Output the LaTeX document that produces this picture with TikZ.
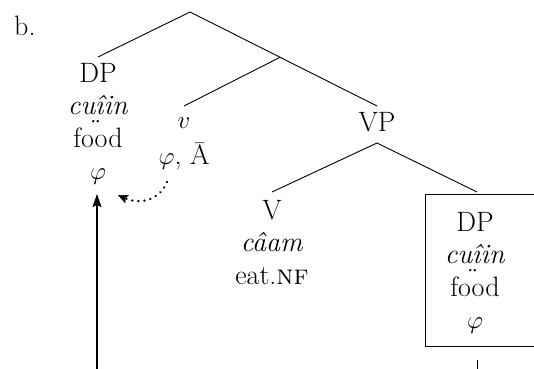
\documentclass[tikz,border=0pt]{standalone}
\usepackage{fontspec}
\usetikzlibrary{arrows.meta}
\newcommand\dblw[1]{\leavevmode\setbox0\hbox{#1}\rlap{\copy0}\hbox to\wd0{\hss\kern0.25em\raisebox{-0.84em}[0pt][0pt]{¨}\hss}}
\begin{document}
\begin{tikzpicture}[x=1pt,y=-1pt,
  lbl/.style={align=center, inner sep=0pt, font=\fontsize{28}{32.5}\selectfont},
  branch/.style={line width=0.9pt},
  movearrow/.style={line width=1.6pt, -{Stealth[length=13pt,width=9pt,inset=2pt]}},
  agreearrow/.style={line width=2.5pt, line cap=round, dash pattern=on 0.1pt off 6pt, -{Stealth[length=10pt,width=9pt,inset=2pt,line width=0.5pt]}}]
\useasboundingbox (0,0) rectangle (534,368);
\clip (0,0) rectangle (534,368);
\node[lbl, anchor=base west] (b) at (14,35) {b.};
\coordinate (top) at (190,12);
\coordinate (vbar) at (280,57.3);
\node[lbl, anchor=north] (dpl) at (98,63) {DP\\\textit{c\dblw{u}îin}\\food\\$\varphi$};
\node[lbl, anchor=north] (v) at (184,118) {$v$\\[3pt]$\varphi$, Ā};
\node[lbl, anchor=north] (vp) at (377,112) {VP};
\node[lbl, anchor=north] (V) at (272,200) {V\\\textit{câam}\\eat.\textsc{nf}};
\node[draw, line width=0.9pt, minimum width=130pt, minimum height=152pt, anchor=north west, inner sep=0pt] (box) at (425,194) {};
\node[lbl, anchor=north] (dpr) at (475,212) {DP\\\textit{c\dblw{u}îin}\\food\\$\varphi$};
\draw[branch] (top) -- (dpl.north |- 0,57);
\draw[branch] (top) -- (vp.north |- 0,106);
\draw[branch] (vbar) -- (v.north |- 0,106);
\draw[branch] (vp.south |- 0,143) -- (V.north |- 0,192);
\draw[branch] (vp.south |- 0,143) -- (477,192);
\coordinate (abot) at (97,372);
\coordinate (atip) at (97,194);
\draw[movearrow] (abot) -- (atip);
\coordinate (dstart) at (167,182);
\coordinate (dtip) at (118,195);
\draw[agreearrow] (dstart) .. controls (160,200) and (140,205) .. (dtip);
\coordinate (tick) at (477,360);
\draw[line width=1pt] (tick) -- (477,372);
\end{tikzpicture}
\end{document}
